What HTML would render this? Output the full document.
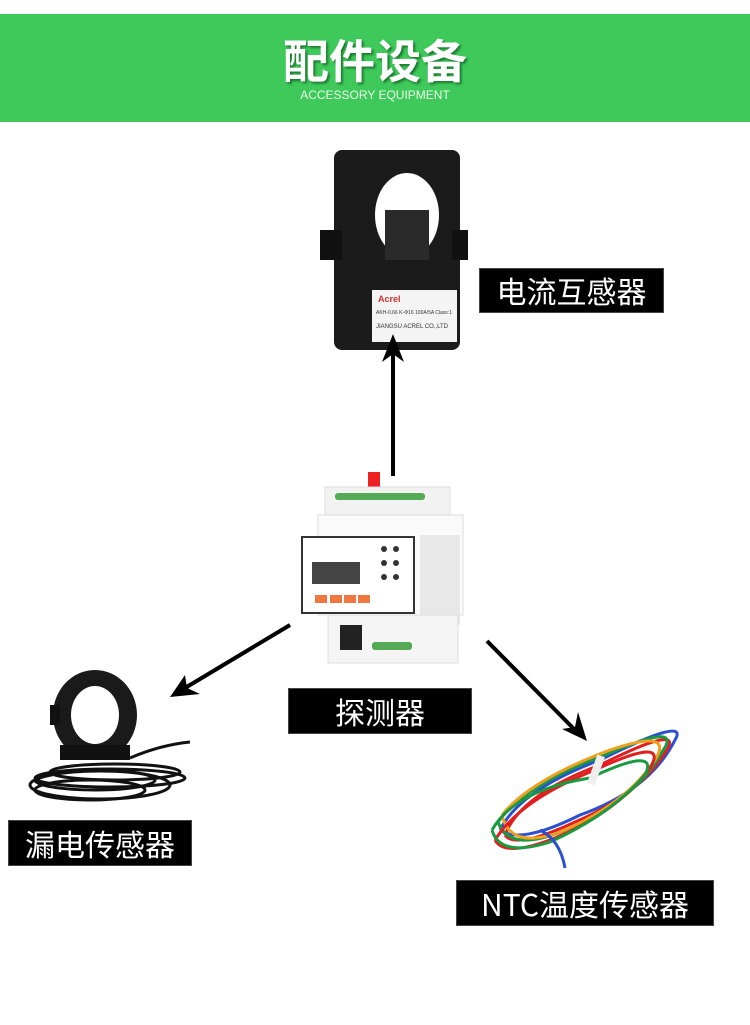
<!DOCTYPE html>
<html><head><meta charset="utf-8"><style>
body{margin:0;width:750px;height:1025px;background:#fff;position:relative;overflow:hidden;font-family:"Liberation Sans","Noto Sans CJK SC",sans-serif}
.hdr{position:absolute;left:0;top:14px;width:750px;height:108px;background:#3ec95a}
.t{position:absolute;left:0;width:750px;text-align:center;color:#fff}
.lab{position:absolute;background:#000;color:#fff;font-size:30px;text-align:center;font-family:"Noto Sans CJK SC",sans-serif;border:1px solid #444}
</style></head><body>
<div class="hdr"></div>
<div class="t" style="top:26px;font-size:46px;font-weight:bold;font-family:'Noto Sans CJK SC',sans-serif;text-shadow:2px 2px 2px #1d7a30">配件设备</div>
<div class="t" style="top:88px;font-size:12px;color:#e8ffe8">ACCESSORY EQUIPMENT</div>

<svg width="750" height="1025" style="position:absolute;left:0;top:0">
<!-- CT -->
<rect x="334" y="150" width="126" height="200" rx="8" fill="#1b1b1b"/>
<rect x="320" y="230" width="22" height="30" fill="#111"/>
<rect x="452" y="230" width="16" height="30" fill="#111"/>
<ellipse cx="407" cy="215" rx="32" ry="42" fill="#fff"/>
<rect x="385" y="210" width="44" height="50" fill="#2a2a2a"/>
<rect x="372" y="290" width="85" height="52" fill="#f4f4f4"/>
<text x="378" y="302" font-size="9" fill="#c33" font-weight="bold">Acrel</text>
<text x="376" y="314" font-size="5" fill="#333">AKH-0.66 K-Φ16 100A/5A Class:1</text>
<text x="376" y="328" font-size="6" fill="#333">JIANGSU ACREL CO.,LTD</text>
<!-- device -->
<rect x="368" y="472" width="12" height="16" fill="#e22"/>
<rect x="325" y="487" width="125" height="30" fill="#f2f2f2" stroke="#ddd"/>
<rect x="335" y="493" width="90" height="7" rx="3" fill="#5a5"/>
<rect x="318" y="515" width="145" height="100" fill="#fafafa" stroke="#ddd"/>
<rect x="302" y="537" width="112" height="76" fill="#fff" stroke="#333" stroke-width="2"/>
<rect x="312" y="562" width="48" height="22" fill="#444"/>
<rect x="315" y="595" width="12" height="8" fill="#f07840"/>
<rect x="330" y="595" width="12" height="8" fill="#f07840"/>
<rect x="344" y="595" width="12" height="8" fill="#f07840"/>
<rect x="358" y="595" width="12" height="8" fill="#f07840"/>
<g fill="#333"><circle cx="384" cy="549" r="3"/><circle cx="396" cy="549" r="3"/><circle cx="384" cy="563" r="3"/><circle cx="396" cy="563" r="3"/><circle cx="384" cy="577" r="3"/><circle cx="396" cy="577" r="3"/></g>
<rect x="420" y="535" width="40" height="90" fill="#e8e8e8"/>
<rect x="328" y="615" width="130" height="48" fill="#f5f5f5" stroke="#ddd"/>
<rect x="340" y="625" width="22" height="25" fill="#222"/>
<rect x="372" y="642" width="40" height="8" rx="3" fill="#5a5"/>
<!-- arrows -->
<g stroke="#000" stroke-width="4" fill="#000">
<line x1="393" y1="476" x2="393" y2="350"/>
<line x1="290" y1="625" x2="185" y2="688"/>
<line x1="487" y1="641" x2="575" y2="730"/>
</g>
<polygon points="393,334 382,362 393,354 404,362"/>
<polygon points="170,697 185,675 187,688 200,694"/>
<polygon points="587,741 562,729 575,727 578,712"/>
<!-- leakage sensor -->
<ellipse cx="95" cy="715" rx="42" ry="45" fill="#1a1a1a"/>
<ellipse cx="95" cy="715" rx="24" ry="29" fill="#fff"/>
<rect x="50" y="705" width="10" height="20" fill="#111"/>
<rect x="60" y="745" width="70" height="15" fill="#111"/>
<g fill="none" stroke="#111" stroke-width="3">
<ellipse cx="100" cy="785" rx="70" ry="14"/><ellipse cx="95" cy="780" rx="60" ry="10"/><ellipse cx="110" cy="778" rx="75" ry="9"/>
<ellipse cx="90" cy="790" rx="55" ry="10"/><ellipse cx="115" cy="772" rx="65" ry="8"/>
<path d="M130 758 Q160 745 190 742"/></g>
<!-- NTC wires -->
<g fill="none" stroke-width="3">
<path d="M500 830 Q520 790 600 760 Q690 715 675 740 Q650 790 580 815 Q520 845 500 830" stroke="#2a4fd0"/>
<path d="M505 835 Q520 795 600 765 Q680 725 668 748 Q640 795 575 822 Q515 850 505 835" stroke="#e02020"/>
<path d="M498 822 Q525 785 605 755 Q685 720 662 752 Q635 800 570 828 Q510 855 498 822" stroke="#1a9a40"/>
<path d="M502 815 Q530 780 610 750 Q675 728 655 760 Q625 805 560 832 Q510 850 502 815" stroke="#f0a020"/>
<path d="M495 840 Q520 800 595 770 Q670 735 650 768 Q620 810 555 838 Q505 858 495 840" stroke="#e02020"/>
<path d="M492 830 Q515 790 590 778 Q660 745 645 775 Q610 815 550 842 Q500 858 492 830" stroke="#1a9a40"/>
<path d="M540 830 Q560 840 565 868" stroke="#2a4fd0"/>
</g>
<rect x="592" y="755" width="8" height="30" fill="#eee" transform="rotate(20 596 770)"/>
</svg>

<div class="lab" style="left:479px;top:268px;width:183px;height:43px;line-height:43px">电流互感器</div>
<div class="lab" style="left:288px;top:688px;width:182px;height:44px;line-height:44px">探测器</div>
<div class="lab" style="left:8px;top:820px;width:182px;height:44px;line-height:44px">漏电传感器</div>
<div class="lab" style="left:456px;top:880px;width:256px;height:44px;line-height:44px">NTC温度传感器</div>
</body></html>
